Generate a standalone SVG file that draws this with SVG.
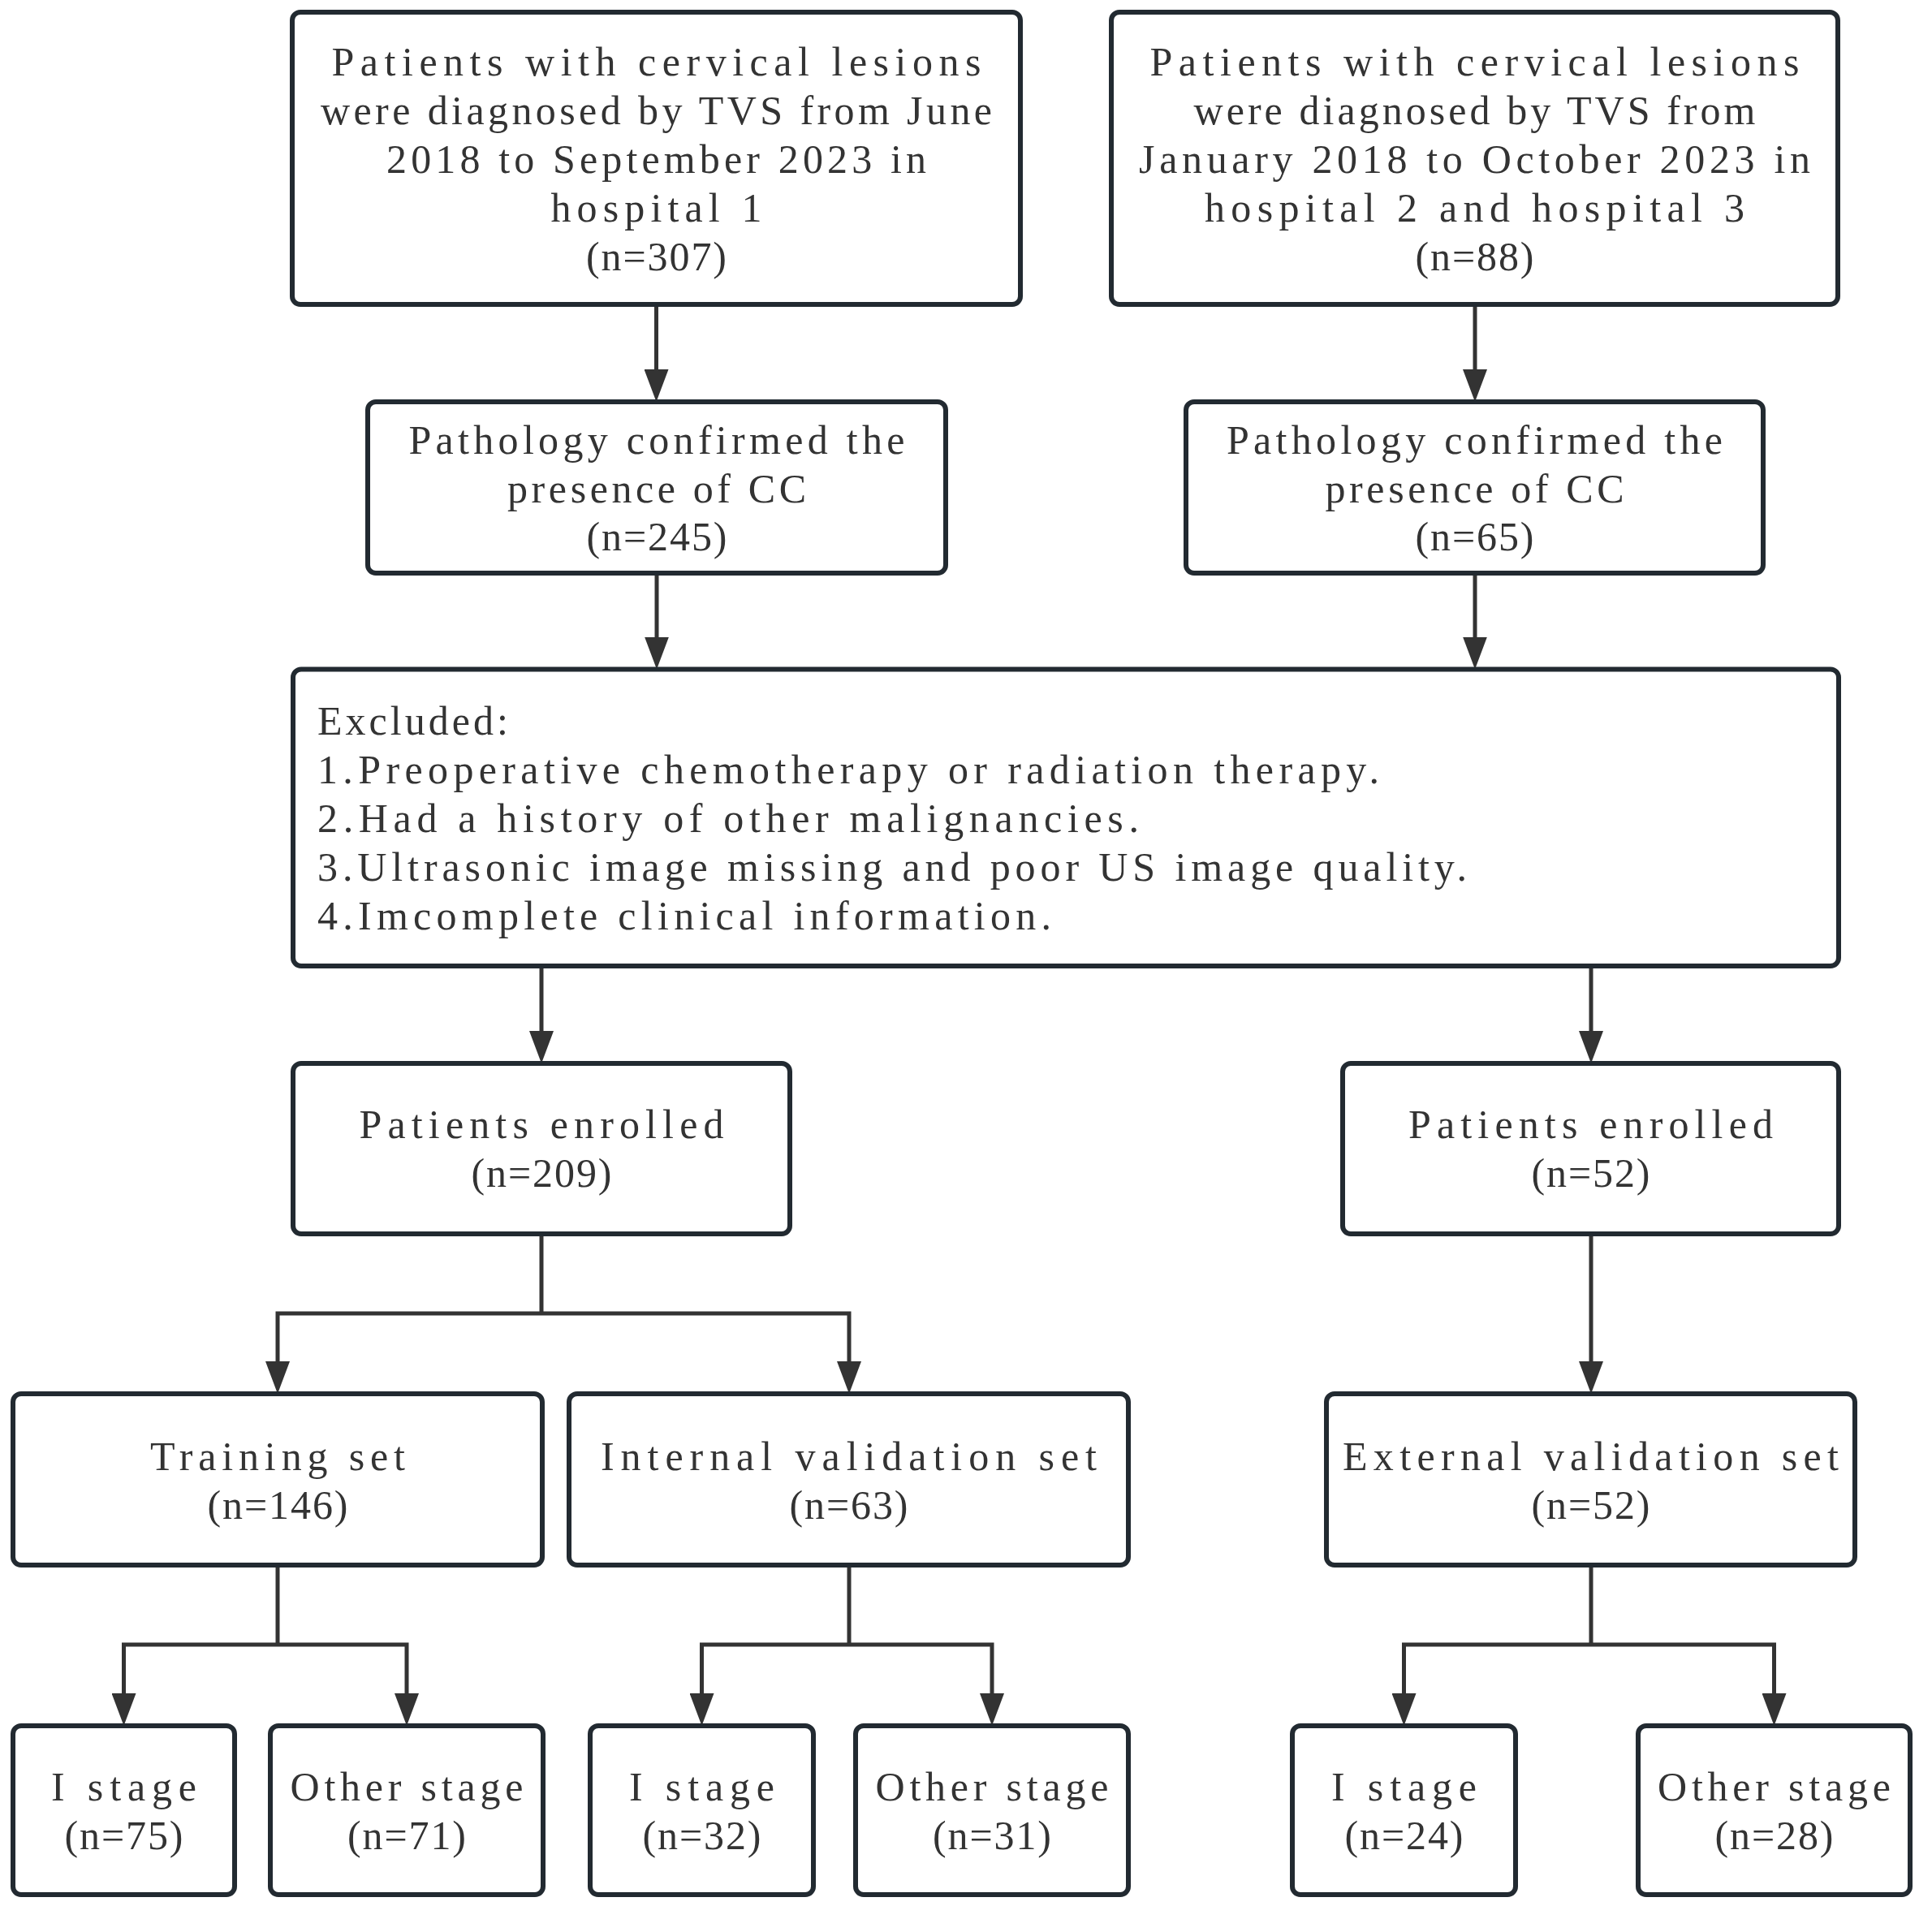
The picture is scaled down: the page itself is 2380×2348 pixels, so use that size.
<svg xmlns="http://www.w3.org/2000/svg" width="2380" height="2348" viewBox="0 0 2380 2348">
<defs>
<style>
.box{fill:#ffffff;stroke:#222a31;stroke-width:6}
.t{font-family:"Liberation Serif","Times New Roman",serif;font-size:50px;fill:#333333;text-anchor:middle}
.l{font-family:"Liberation Serif","Times New Roman",serif;font-size:50px;fill:#333333;text-anchor:start}
.c{fill:none;stroke:#333333;stroke-width:5}
.a{fill:none;stroke:#333333;stroke-width:5;marker-end:url(#arr)}
</style>
<marker id="arr" markerUnits="userSpaceOnUse" viewBox="0 0 40 30" refX="20" refY="15" markerWidth="40" markerHeight="30" orient="auto">
<path d="M0,0 L40,15 L0,30 Z" fill="#333333"/>
</marker>
</defs>
<rect width="2380" height="2348" fill="#ffffff"/>
<g id="connectors">
<line class="a" x1="808.5" y1="378" x2="808.5" y2="475"/>
<line class="a" x1="1817" y1="378" x2="1817" y2="475"/>
<line class="a" x1="809" y1="709" x2="809" y2="804.5"/>
<line class="a" x1="1817" y1="709" x2="1817" y2="804.5"/>
<line class="a" x1="667" y1="1193" x2="667" y2="1290"/>
<line class="a" x1="1960" y1="1193" x2="1960" y2="1290"/>
<line class="a" x1="1960" y1="1523" x2="1960" y2="1697"/>
<polyline class="c" points="667,1523 667,1618"/>
<polyline class="a" points="667,1618 342,1618 342,1697"/>
<polyline class="a" points="667,1618 1046,1618 1046,1697"/>
<polyline class="c" points="342,1931 342,2026"/>
<polyline class="a" points="342,2026 152.5,2026 152.5,2106"/>
<polyline class="a" points="342,2026 501,2026 501,2106"/>
<polyline class="c" points="1046,1931 1046,2026"/>
<polyline class="a" points="1046,2026 864.5,2026 864.5,2106"/>
<polyline class="a" points="1046,2026 1222,2026 1222,2106"/>
<polyline class="c" points="1960,1931 1960,2026"/>
<polyline class="a" points="1960,2026 1729.5,2026 1729.5,2106"/>
<polyline class="a" points="1960,2026 2185.5,2026 2185.5,2106"/>
</g>
<g id="node-source1">
<rect class="box" x="360" y="15" width="897" height="360" rx="10"/>
<text class="t" x="808.5" y="93" textLength="800" lengthAdjust="spacing">Patients with cervical lesions</text>
<text class="t" x="808.5" y="153" textLength="827" lengthAdjust="spacing">were diagnosed by TVS from June</text>
<text class="t" x="808.5" y="213" textLength="665" lengthAdjust="spacing">2018 to September 2023 in</text>
<text class="t" x="808.5" y="273" textLength="260" lengthAdjust="spacing">hospital 1</text>
<text class="t" x="808.5" y="333" textLength="173" lengthAdjust="spacing">(n=307)</text>
</g>
<g id="node-source2">
<rect class="box" x="1369" y="15" width="895" height="360" rx="10"/>
<text class="t" x="1816.5" y="93" textLength="800" lengthAdjust="spacing">Patients with cervical lesions</text>
<text class="t" x="1816.5" y="153" textLength="692" lengthAdjust="spacing">were diagnosed by TVS from</text>
<text class="t" x="1816.5" y="213" textLength="827" lengthAdjust="spacing">January 2018 to October 2023 in</text>
<text class="t" x="1816.5" y="273" textLength="665" lengthAdjust="spacing">hospital 2 and hospital 3</text>
<text class="t" x="1816.5" y="333" textLength="146" lengthAdjust="spacing">(n=88)</text>
</g>
<g id="node-path1">
<rect class="box" x="453" y="495" width="712" height="211" rx="10"/>
<text class="t" x="809" y="559" textLength="611" lengthAdjust="spacing">Pathology confirmed the</text>
<text class="t" x="809" y="619" textLength="368" lengthAdjust="spacing">presence of CC</text>
<text class="t" x="809" y="678" textLength="173" lengthAdjust="spacing">(n=245)</text>
</g>
<g id="node-path2">
<rect class="box" x="1461" y="495" width="711" height="211" rx="10"/>
<text class="t" x="1816.5" y="559" textLength="611" lengthAdjust="spacing">Pathology confirmed the</text>
<text class="t" x="1816.5" y="619" textLength="368" lengthAdjust="spacing">presence of CC</text>
<text class="t" x="1816.5" y="678" textLength="146" lengthAdjust="spacing">(n=65)</text>
</g>
<g id="node-excluded">
<rect class="box" x="361" y="824.5" width="1904" height="365.5" rx="10"/>
<text class="l" x="391" y="905" textLength="235" lengthAdjust="spacing">Excluded:</text>
<text class="l" x="391" y="965" textLength="1308" lengthAdjust="spacing">1.Preoperative chemotherapy or radiation therapy.</text>
<text class="l" x="391" y="1025" textLength="1012" lengthAdjust="spacing">2.Had a history of other malignancies.</text>
<text class="l" x="391" y="1085" textLength="1416" lengthAdjust="spacing">3.Ultrasonic image missing and poor US image quality.</text>
<text class="l" x="391" y="1145" textLength="904" lengthAdjust="spacing">4.Imcomplete clinical information.</text>
</g>
<g id="node-enrolled1">
<rect class="box" x="361" y="1310" width="612" height="210" rx="10"/>
<text class="t" x="667" y="1402" textLength="449" lengthAdjust="spacing">Patients enrolled</text>
<text class="t" x="667" y="1462" textLength="173" lengthAdjust="spacing">(n=209)</text>
</g>
<g id="node-enrolled2">
<rect class="box" x="1654" y="1310" width="611" height="210" rx="10"/>
<text class="t" x="1959.5" y="1402" textLength="449" lengthAdjust="spacing">Patients enrolled</text>
<text class="t" x="1959.5" y="1462" textLength="146" lengthAdjust="spacing">(n=52)</text>
</g>
<g id="node-training">
<rect class="box" x="16" y="1717" width="652" height="211" rx="10"/>
<text class="t" x="342" y="1811" textLength="314" lengthAdjust="spacing">Training set</text>
<text class="t" x="342" y="1871" textLength="173" lengthAdjust="spacing">(n=146)</text>
</g>
<g id="node-internal">
<rect class="box" x="701" y="1717" width="689" height="211" rx="10"/>
<text class="t" x="1045.5" y="1811" textLength="611" lengthAdjust="spacing">Internal validation set</text>
<text class="t" x="1045.5" y="1871" textLength="146" lengthAdjust="spacing">(n=63)</text>
</g>
<g id="node-external">
<rect class="box" x="1634" y="1717" width="651" height="211" rx="10"/>
<text class="t" x="1959.5" y="1811" textLength="611" lengthAdjust="spacing">External validation set</text>
<text class="t" x="1959.5" y="1871" textLength="146" lengthAdjust="spacing">(n=52)</text>
</g>
<g id="node-train-i">
<rect class="box" x="16" y="2126" width="273" height="208" rx="10"/>
<text class="t" x="152.5" y="2218" textLength="179" lengthAdjust="spacing">I stage</text>
<text class="t" x="152.5" y="2278" textLength="146" lengthAdjust="spacing">(n=75)</text>
</g>
<g id="node-train-other">
<rect class="box" x="333" y="2126" width="336" height="208" rx="10"/>
<text class="t" x="501" y="2218" textLength="287" lengthAdjust="spacing">Other stage</text>
<text class="t" x="501" y="2278" textLength="146" lengthAdjust="spacing">(n=71)</text>
</g>
<g id="node-int-i">
<rect class="box" x="727" y="2126" width="275" height="208" rx="10"/>
<text class="t" x="864.5" y="2218" textLength="179" lengthAdjust="spacing">I stage</text>
<text class="t" x="864.5" y="2278" textLength="146" lengthAdjust="spacing">(n=32)</text>
</g>
<g id="node-int-other">
<rect class="box" x="1054" y="2126" width="336" height="208" rx="10"/>
<text class="t" x="1222" y="2218" textLength="287" lengthAdjust="spacing">Other stage</text>
<text class="t" x="1222" y="2278" textLength="146" lengthAdjust="spacing">(n=31)</text>
</g>
<g id="node-ext-i">
<rect class="box" x="1592" y="2126" width="275" height="208" rx="10"/>
<text class="t" x="1729.5" y="2218" textLength="179" lengthAdjust="spacing">I stage</text>
<text class="t" x="1729.5" y="2278" textLength="146" lengthAdjust="spacing">(n=24)</text>
</g>
<g id="node-ext-other">
<rect class="box" x="2018" y="2126" width="335" height="208" rx="10"/>
<text class="t" x="2185.5" y="2218" textLength="287" lengthAdjust="spacing">Other stage</text>
<text class="t" x="2185.5" y="2278" textLength="146" lengthAdjust="spacing">(n=28)</text>
</g>
</svg>
